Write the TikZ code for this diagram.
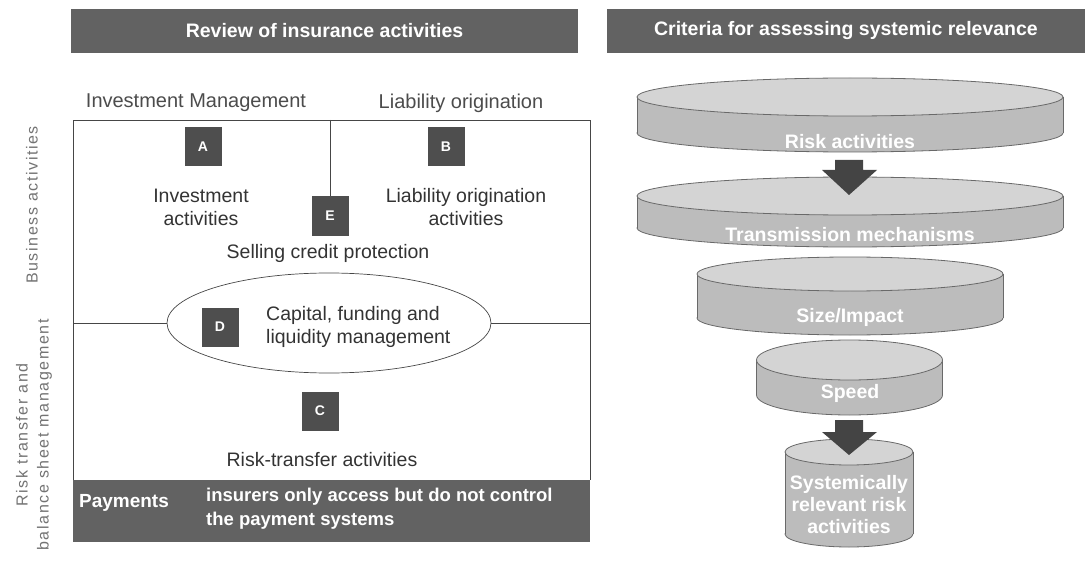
\documentclass[tikz,border=0pt]{standalone}
\usepackage{fontspec}
\setmainfont{Liberation Sans}
\newfontfamily\spacedfont[LetterSpace=10]{Liberation Sans}
\usetikzlibrary{shapes.geometric}
\definecolor{barfill}{RGB}{98,98,98}
\definecolor{tagfill}{RGB}{78,78,78}
\definecolor{disctop}{RGB}{212,212,212}
\definecolor{discside}{RGB}{188,188,188}
\definecolor{discline}{RGB}{105,105,105}
\definecolor{arrowfill}{RGB}{68,68,68}
\definecolor{panel}{RGB}{70,70,70}

\begin{document}
\begin{tikzpicture}[x=1pt, y=-1pt,
    titlebar/.style={fill=barfill, text=white, font=\fontsize{19.5}{23}\selectfont\bfseries, minimum height=44pt, inner sep=0pt},
    tag/.style={fill=tagfill, text=white, font=\fontsize{14}{16}\selectfont\bfseries, minimum width=37pt, minimum height=39pt, inner sep=0pt},
    body/.style={text=black!80, font=\fontsize{19.5}{23}\selectfont, align=center, inner sep=0pt},
    header/.style={text=black!70, font=\fontsize{20}{23}\selectfont, inner sep=0pt},
    sidelabel/.style={text=black!55, font=\spacedfont\fontsize{16}{21}\selectfont, rotate=90, align=center, inner sep=0pt},
    bartext/.style={text=white, font=\fontsize{18.5}{24}\selectfont\bfseries, align=left, inner sep=0pt},
    disctext/.style={text=white, font=\fontsize{19.5}{22}\selectfont\bfseries, align=center, inner sep=0pt},
    panelline/.style={draw=panel, line width=0.7pt}]
  \useasboundingbox (0,0) rectangle (1089,572);

  % Titles
  \node[titlebar, minimum width=507pt] (review) at (324.5,31) {Review of insurance activities};
  \node[titlebar, minimum width=478pt] (criteria) at (846,31) {Criteria for assessing systemic relevance};

  % Left panel
  \draw[panelline] (73,480) -- (73,120) -- (590,120) -- (590,480);
  \node[fill=barfill, minimum width=517pt, minimum height=62pt, inner sep=0pt, anchor=north west] (paybar) at (73,480) {};
  \node[bartext, font=\fontsize{19}{24}\selectfont\bfseries] (payments) at (124,503) {Payments};
  \node[bartext, anchor=west] (payinfo) at (206,509) {insurers only access but do not control\\the payment systems};

  \node[header] (invman) at (196,103) {Investment Management};
  \node[header] (liaborig) at (461,103) {Liability origination};

  \node[tag] (tagA) at (203,146.5) {A};
  \node[tag] (tagB) at (446,146.5) {B};
  \node[tag] (tagE) at (330,216) {E};
  \node[tag] (tagD) at (220,327) {D};
  \node[tag] (tagC) at (320,411) {C};

  \node[body] (invact) at (201,207) {Investment\\activities};
  \node[body] (liabact) at (466,207) {Liability origination\\activities};
  \node[body] (selling) at (328,253) {Selling credit protection};
  \node[body, align=left, anchor=west] (capfund) at (266,327) {Capital, funding and\\liquidity management};
  \node[body] (risktr) at (322,460) {Risk-transfer activities};

  \node[panelline, ellipse, minimum width=324pt, minimum height=100pt, inner sep=0pt] (capital) at (329,323) {};
  \coordinate (midL) at (73,323);
  \coordinate (midR) at (590,323);
  \coordinate (divtop) at (330,120);
  \draw[panelline] (midL) -- (capital.west);
  \draw[panelline] (capital.east) -- (midR);
  \draw[panelline] (divtop) -- (tagE.north);

  \node[sidelabel] (business) at (32,205) {Business activities};
  \node[sidelabel] (balance) at (34,435) {Risk transfer and\\balance sheet management};

  % Funnel
  \foreach \cx/\yt/\yb/\rx/\ry in {850/97/133/213/19, 850/196/228/213/19, 850/274/318/153/17, 849.5/360/395/93/20, 849/452/534/64/13}{
    \filldraw[fill=discside, draw=discline, line width=0.8pt] (\cx,\yb) ellipse [x radius=\rx*1pt, y radius=\ry*1pt];
    \fill[discside] ({\cx-\rx},\yt) rectangle ({\cx+\rx},\yb);
    \draw[discline, line width=0.8pt] ({\cx-\rx},\yt) -- ({\cx-\rx},\yb);
    \draw[discline, line width=0.8pt] ({\cx+\rx},\yt) -- ({\cx+\rx},\yb);
    \filldraw[fill=disctop, draw=discline, line width=0.8pt] (\cx,\yt) ellipse [x radius=\rx*1pt, y radius=\ry*1pt];
  }
  \node[disctext] (riskact) at (850,142) {Risk activities};
  \node[disctext] (transm) at (850,235) {Transmission mechanisms};
  \node[disctext] (size) at (850,317) {Size/Impact};
  \node[disctext] (speed) at (850,393) {Speed};
  \node[disctext] (sysrel) at (849,505) {Systemically\\relevant risk\\activities};

  \coordinate (arr1) at (849,160);
  \coordinate (arr2) at (849,420);
  \fill[arrowfill] (arr1) ++(-14,0) -- ++(28,0) -- ++(0,10) -- ++(14,0) -- ++(-28,25) -- ++(-27,-25) -- ++(13,0) -- cycle;
  \fill[arrowfill] (arr2) ++(-14,0) -- ++(28,0) -- ++(0,12) -- ++(14,0) -- ++(-28,23) -- ++(-27,-23) -- ++(13,0) -- cycle;
\end{tikzpicture}
\end{document}
